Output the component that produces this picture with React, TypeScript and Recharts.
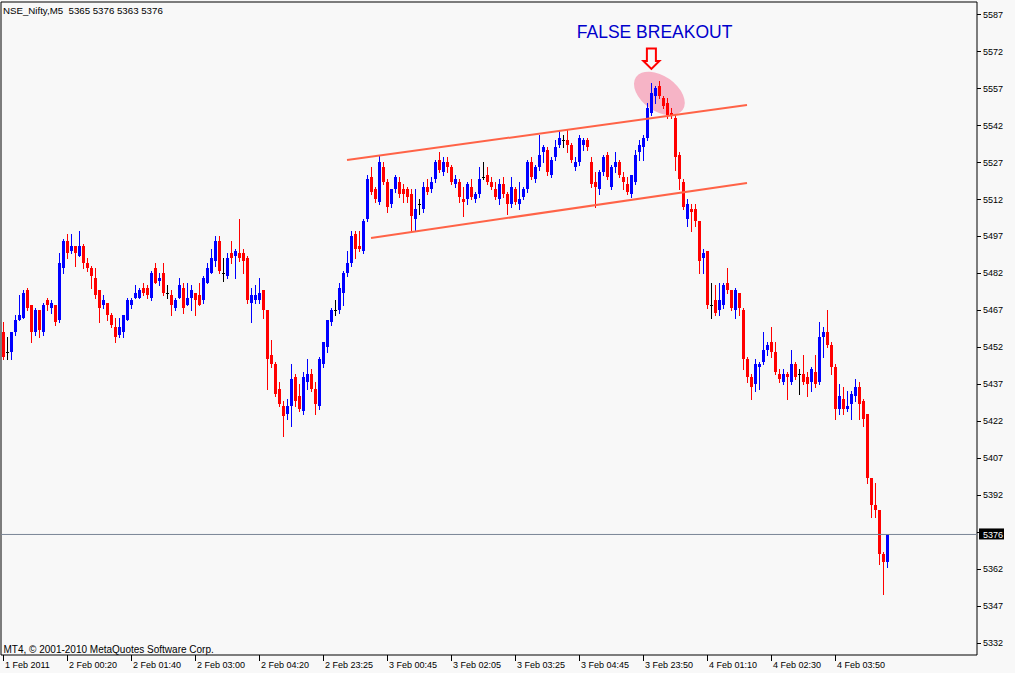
import React from 'react';
import {
  ComposedChart,
  Bar,
  XAxis,
  YAxis,
  ReferenceLine,
  ReferenceDot,
  ReferenceArea,
} from 'recharts';

// NSE_Nifty M5 candles (index 0 = first bar)
const opens = [
  5458, 5450, 5450, 5458, 5463, 5464, 5475, 5469, 5458, 5467, 5458, 5471, 5468, 5469, 5463, 5484,
  5495, 5491, 5493, 5489, 5493, 5486, 5484, 5480, 5475, 5469, 5470, 5465, 5460, 5457, 5458, 5463,
  5469, 5472, 5472, 5476, 5476, 5472, 5484, 5479, 5482, 5474, 5473, 5468, 5472, 5476, 5469, 5472,
  5474, 5473, 5471, 5478, 5482, 5487, 5495, 5482, 5481, 5490, 5489, 5490, 5490, 5488, 5470, 5471,
  5471, 5475, 5467, 5449, 5445, 5435, 5428, 5425, 5428, 5440, 5432, 5426, 5438, 5441, 5435, 5428,
  5445, 5452, 5462, 5467, 5467, 5474, 5482, 5486, 5498, 5493, 5491, 5504, 5521, 5516, 5511, 5525,
  5519, 5510, 5516, 5519, 5516, 5516, 5514, 5504, 5510, 5508, 5517, 5516, 5520, 5528, 5523, 5527,
  5525, 5518, 5519, 5512, 5512, 5517, 5512, 5514, 5521, 5522, 5519, 5516, 5512, 5518, 5514, 5510,
  5516, 5510, 5513, 5516, 5527, 5520, 5525, 5531, 5532, 5522, 5529, 5534, 5536, 5536, 5534, 5525,
  5527, 5534, 5536, 5527, 5519, 5516, 5523, 5530, 5517, 5525, 5527, 5521, 5518, 5514, 5519, 5531,
  5533, 5537, 5547, 5554, 5558, 5553, 5551, 5547, 5545, 5530, 5519, 5504, 5508, 5508, 5503, 5488,
  5491, 5469, 5471, 5467, 5469, 5478, 5475, 5467, 5474, 5467, 5447, 5440, 5437, 5444, 5446, 5451,
  5454, 5450, 5441, 5438, 5441, 5438, 5445, 5441, 5441, 5440, 5438, 5442, 5438, 5456, 5458, 5453,
  5444, 5427, 5431, 5427, 5429, 5432, 5436, 5430, 5425, 5399, 5388, 5386, 5368, 5365,
];
const highs = [
  5462, 5456, 5458, 5465, 5473, 5475, 5476, 5469, 5468, 5467, 5470, 5472, 5471, 5469, 5490, 5496,
  5498, 5498, 5493, 5499, 5494, 5488, 5485, 5484, 5475, 5473, 5470, 5466, 5464, 5464, 5465, 5472,
  5472, 5477, 5476, 5478, 5477, 5483, 5486, 5482, 5486, 5477, 5475, 5472, 5480, 5478, 5478, 5477,
  5474, 5478, 5481, 5486, 5492, 5497, 5497, 5488, 5490, 5495, 5492, 5504, 5492, 5489, 5476, 5477,
  5480, 5475, 5467, 5455, 5446, 5438, 5430, 5431, 5445, 5441, 5437, 5442, 5447, 5443, 5438, 5448,
  5454, 5463, 5468, 5471, 5478, 5483, 5491, 5499, 5499, 5499, 5504, 5522, 5525, 5517, 5530, 5527,
  5520, 5516, 5522, 5521, 5518, 5517, 5516, 5516, 5512, 5519, 5520, 5521, 5528, 5531, 5529, 5529,
  5526, 5522, 5520, 5517, 5519, 5520, 5515, 5525, 5527, 5525, 5521, 5519, 5520, 5521, 5515, 5521,
  5517, 5519, 5517, 5528, 5529, 5526, 5538, 5534, 5533, 5529, 5536, 5540, 5538, 5540, 5535, 5529,
  5538, 5537, 5537, 5529, 5523, 5524, 5530, 5531, 5526, 5531, 5528, 5523, 5521, 5522, 5532, 5536,
  5538, 5551, 5559, 5558, 5560, 5554, 5553, 5549, 5546, 5531, 5520, 5512, 5510, 5510, 5503, 5492,
  5491, 5478, 5477, 5478, 5478, 5484, 5475, 5476, 5474, 5468, 5448, 5441, 5447, 5446, 5458, 5454,
  5460, 5454, 5443, 5443, 5442, 5451, 5446, 5443, 5449, 5442, 5444, 5449, 5462, 5460, 5467, 5454,
  5445, 5437, 5436, 5434, 5434, 5439, 5438, 5431, 5425, 5399, 5397, 5386, 5369, 5376,
];
const lows = [
  5447, 5447, 5447, 5457, 5463, 5464, 5467, 5454, 5457, 5456, 5457, 5467, 5466, 5461, 5462, 5482,
  5488, 5490, 5485, 5489, 5484, 5483, 5476, 5472, 5462, 5468, 5463, 5460, 5454, 5456, 5456, 5463,
  5468, 5472, 5472, 5473, 5472, 5471, 5478, 5477, 5473, 5472, 5465, 5467, 5472, 5466, 5469, 5467,
  5465, 5469, 5470, 5478, 5482, 5485, 5482, 5479, 5480, 5486, 5480, 5487, 5482, 5470, 5462, 5470,
  5470, 5464, 5435, 5444, 5432, 5428, 5416, 5423, 5420, 5428, 5426, 5425, 5435, 5434, 5425, 5427,
  5444, 5450, 5461, 5465, 5466, 5469, 5481, 5485, 5488, 5491, 5490, 5503, 5514, 5511, 5510, 5518,
  5507, 5509, 5515, 5513, 5511, 5511, 5499, 5499, 5506, 5507, 5514, 5515, 5519, 5523, 5522, 5523,
  5518, 5517, 5511, 5505, 5510, 5512, 5511, 5513, 5520, 5518, 5516, 5512, 5510, 5513, 5506, 5509,
  5510, 5508, 5512, 5515, 5520, 5519, 5524, 5527, 5522, 5521, 5528, 5533, 5533, 5531, 5527, 5524,
  5526, 5532, 5532, 5517, 5509, 5514, 5522, 5520, 5516, 5523, 5521, 5516, 5514, 5513, 5518, 5528,
  5528, 5536, 5546, 5551, 5553, 5549, 5545, 5545, 5524, 5516, 5508, 5501, 5499, 5501, 5482, 5482,
  5468, 5464, 5465, 5465, 5468, 5474, 5467, 5464, 5465, 5443, 5438, 5431, 5434, 5435, 5445, 5449,
  5448, 5441, 5438, 5437, 5431, 5437, 5439, 5433, 5437, 5432, 5434, 5436, 5437, 5448, 5452, 5441,
  5423, 5425, 5425, 5426, 5423, 5430, 5423, 5420, 5397, 5383, 5383, 5364, 5352, 5363,
];
const closes = [
  5448, 5450, 5458, 5463, 5465, 5474, 5468, 5458, 5467, 5459, 5469, 5469, 5470, 5462, 5486, 5495,
  5490, 5493, 5490, 5493, 5486, 5484, 5481, 5473, 5468, 5471, 5465, 5461, 5456, 5460, 5465, 5471,
  5471, 5474, 5475, 5474, 5473, 5482, 5478, 5480, 5474, 5474, 5469, 5471, 5477, 5468, 5472, 5475,
  5471, 5469, 5480, 5484, 5488, 5495, 5483, 5482, 5488, 5488, 5491, 5488, 5487, 5471, 5473, 5473,
  5474, 5467, 5447, 5445, 5433, 5429, 5424, 5428, 5439, 5430, 5427, 5440, 5441, 5435, 5429, 5447,
  5454, 5463, 5467, 5467, 5476, 5482, 5486, 5497, 5492, 5492, 5503, 5520, 5515, 5512, 5527, 5519,
  5509, 5516, 5521, 5514, 5514, 5513, 5505, 5508, 5510, 5517, 5515, 5519, 5527, 5524, 5527, 5525,
  5519, 5520, 5513, 5511, 5518, 5513, 5514, 5520, 5521, 5519, 5517, 5513, 5518, 5514, 5510, 5517,
  5511, 5512, 5516, 5527, 5521, 5525, 5530, 5533, 5523, 5528, 5533, 5537, 5536, 5534, 5528, 5527,
  5537, 5536, 5533, 5518, 5517, 5523, 5529, 5521, 5525, 5527, 5522, 5519, 5515, 5522, 5530, 5534,
  5537, 5549, 5555, 5557, 5554, 5550, 5546, 5546, 5529, 5520, 5509, 5510, 5507, 5503, 5487, 5490,
  5469, 5469, 5466, 5471, 5477, 5475, 5468, 5475, 5468, 5447, 5440, 5436, 5445, 5445, 5451, 5453,
  5450, 5442, 5439, 5441, 5440, 5445, 5440, 5441, 5438, 5437, 5443, 5437, 5456, 5458, 5453, 5444,
  5427, 5432, 5427, 5428, 5433, 5436, 5429, 5423, 5399, 5388, 5386, 5368, 5365, 5376,
];

const timeTicks = [0, 16, 32, 48, 64, 80, 96, 112, 128, 144, 160, 176, 192, 208];
const timeLabels = [
  '1 Feb 2011', '2 Feb 00:20', '2 Feb 01:40', '2 Feb 03:00', '2 Feb 04:20', '2 Feb 23:25',
  '3 Feb 00:45', '3 Feb 02:05', '3 Feb 03:25', '3 Feb 04:45', '3 Feb 23:50', '4 Feb 01:10',
  '4 Feb 02:30', '4 Feb 03:50',
];
const priceTicks = [
  5332, 5347, 5362, 5377, 5392, 5407, 5422, 5437, 5452, 5467, 5482, 5497, 5512, 5527, 5542,
  5557, 5572, 5587,
];
const lastPrice = 5376;
const xDomain = [-0.5, 243.5];
const yDomain = [5327.1, 5592.0];

// hand-drawn channel, in bar index / price
const upperChannel = [{ x: 86, y: 5527.9 }, { x: 186, y: 5550.2 }];
const lowerChannel = [{ x: 92, y: 5496.3 }, { x: 186, y: 5518.6 }];
// annotation anchors
const noteText = { x: 162.9, y: 5580.2 };
const noteArrow = { x: 162.1, y: 5569.1 };
const noteOval = { x: 164.1, y: 5554.9 };

const FONT = '"Liberation Sans", Arial, sans-serif';

const data = opens.map((o, i) => ({
  i,
  o,
  h: highs[i],
  l: lows[i],
  c: closes[i],
  range: [lows[i], highs[i]],
}));

const Candle = (props: any) => {
  const { x, y, width, height, payload } = props;
  if (x == null || y == null || !payload) return null;
  const top = Math.min(y, y + height);
  const bottom = Math.max(y, y + height);
  const { o, h, l, c } = payload;
  const k = h > l ? (bottom - top) / (h - l) : 0;
  const py = (v: number) => top + (h - v) * k;
  const cx = Math.round(x + width / 2);
  const color = c > o ? '#0000FF' : c < o ? '#FF0000' : '#000000';
  const bTop = Math.round(py(Math.max(o, c)));
  const bBot = Math.round(py(Math.min(o, c)));
  return (
    <g shapeRendering="crispEdges">
      <line
        x1={cx + 0.5}
        x2={cx + 0.5}
        y1={Math.round(top)}
        y2={Math.round(bottom) + 1}
        stroke={color}
      />
      <rect x={cx - 1} y={bTop} width={3} height={Math.max(1, bBot - bTop)} fill={color} />
    </g>
  );
};

const TimeTick = (props: any) => {
  const { x, y, payload } = props;
  const idx = timeTicks.indexOf(payload.value);
  return (
    <g>
      <line x1={x + 0.5} x2={x + 0.5} y1={y} y2={y + 6} stroke="#000" shapeRendering="crispEdges" />
      <text x={x + 2} y={y + 12.7} fontSize={9} fontFamily={FONT} fill="#000">
        {timeLabels[idx]}
      </text>
    </g>
  );
};

const PriceTick = (props: any) => {
  const { x, y, payload } = props;
  const hide = Math.abs(payload.value - lastPrice) < 5;
  return (
    <g>
      <line x1={x} x2={x + 4} y1={y + 0.5} y2={y + 0.5} stroke="#000" shapeRendering="crispEdges" />
      {!hide && (
        <text x={x + 6} y={y + 3.3} fontSize={9} fontFamily={FONT} fill="#000">
          {payload.value}
        </text>
      )}
    </g>
  );
};

const LastPriceLabel = (props: any) => {
  const vb = props.viewBox;
  if (!vb) return null;
  const x = vb.x + vb.width + 2;
  return (
    <g>
      <rect x={x} y={vb.y - 6} width={25} height={11} fill="#000" />
      <text x={x + 4} y={vb.y + 3.3} fontSize={9} fontFamily={FONT} fill="#fff">
        {lastPrice}
      </text>
    </g>
  );
};

const App: React.FC = () => {
  return (
    <div style={{ position: 'relative', width: 1015, height: 673, background: '#f8f8f8' }}>
      <style>{'body{margin:0;background:#f8f8f8}'}</style>
      <ComposedChart
        width={1015}
        height={673}
        data={data}
        margin={{ top: 2, right: 0, bottom: 0, left: 1 }}
      >
        <XAxis
          dataKey="i"
          type="number"
          scale="linear"
          domain={xDomain}
          allowDataOverflow
          ticks={timeTicks}
          interval={0}
          height={18}
          tickSize={0}
          tickMargin={0}
          tickLine={false}
          axisLine={false}
          tick={<TimeTick />}
        />
        <YAxis
          orientation="right"
          type="number"
          domain={yDomain}
          allowDataOverflow
          ticks={priceTicks}
          interval={0}
          width={38}
          tickSize={0}
          tickMargin={0}
          tickLine={false}
          axisLine={false}
          tick={<PriceTick />}
        />
        <ReferenceDot
          x={noteOval.x}
          y={noteOval.y}
          zIndex={50}
          shape={(p: any) => (
            <ellipse
              cx={p.cx}
              cy={p.cy}
              rx={28.5}
              ry={17.5}
              transform={`rotate(35 ${p.cx} ${p.cy})`}
              fill="#F6B4C6"
            />
          )}
        />
        <Bar
          dataKey="range"
          barSize={3}
          shape={<Candle />}
          isAnimationActive={false}
        />
        <ReferenceLine y={lastPrice} stroke="#7a8596" label={<LastPriceLabel />} />
        <ReferenceLine segment={upperChannel} stroke="#FF6347" strokeWidth={2} />
        <ReferenceLine segment={lowerChannel} stroke="#FF6347" strokeWidth={2} />
        <ReferenceDot
          x={noteArrow.x}
          y={noteArrow.y}
          shape={(p: any) => (
            <path
              d={`M${p.cx - 4.5},${p.cy - 10} L${p.cx + 4.5},${p.cy - 10} L${p.cx + 4.5},${p.cy + 2.5} L${p.cx + 8},${p.cy + 2.5} L${p.cx},${p.cy + 10.5} L${p.cx - 8},${p.cy + 2.5} L${p.cx - 4.5},${p.cy + 2.5} Z`}
              fill="none"
              stroke="#FF0000"
              strokeWidth={2}
            />
          )}
        />
        <ReferenceDot
          x={noteText.x}
          y={noteText.y}
          shape={(p: any) => (
            <text
              x={p.cx}
              y={p.cy + 6.7}
              textAnchor="middle"
              fontSize={17.5}
              fontFamily={FONT}
              fill="#0000CC"
            >
              FALSE BREAKOUT
            </text>
          )}
        />
        <ReferenceArea
          x1={xDomain[0]}
          x2={xDomain[1]}
          y1={yDomain[0]}
          y2={yDomain[1]}
          fill="none"
          stroke="#000"
          ifOverflow="visible"
        />
      </ComposedChart>
      <svg
        width={1015}
        height={673}
        style={{ position: 'absolute', left: 0, top: 0, pointerEvents: 'none' }}
      >
        <text x={3} y={14} fontSize={9.7} fontFamily={FONT} fill="#000">
          NSE_Nifty,M5&#160;&#160;5365 5376 5363 5376
        </text>
        <text x={3.5} y={652.5} fontSize={10} fontFamily={FONT} fill="#000">
          MT4, © 2001-2010 MetaQuotes Software Corp.
        </text>
      </svg>
    </div>
  );
};

export default App;
